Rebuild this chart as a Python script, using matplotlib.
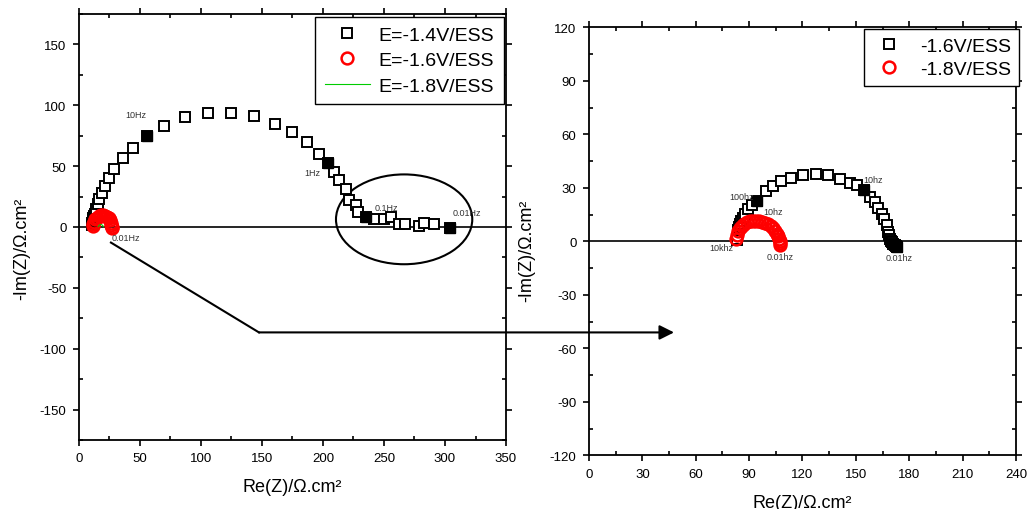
import numpy as np
import matplotlib
matplotlib.use('Agg')
import matplotlib.pyplot as plt
from matplotlib.patches import Ellipse, ConnectionPatch

plt.rcParams['font.family'] = ['Liberation Sans', 'DejaVu Sans']
plt.rcParams['axes.unicode_minus'] = False

# --- left panel: Nyquist at three potentials
x14 = [10.5, 10.8, 11.2, 11.5, 11.8, 12.2, 12.8, 13.9, 15.3, 16.7, 18.6, 21.0, 24.6, 28.9,
       35.8, 44.5, 56.0, 70.0, 86.9, 105.5, 124.3, 143.4, 161.0, 175.0, 186.6, 196.4, 204.4,
       209.3, 213.1, 218.6, 221.3, 226.8, 229.0, 235.2, 242.0, 250.2, 255.5, 262.3, 267.2,
       278.7, 282.8, 291.3, 304.0]
y14 = [1.5, 3.0, 4.5, 6.0, 7.5, 9.0, 11.0, 14.5, 18.9, 22.7, 28.2, 33.6, 39.9, 47.5,
       56.3, 65.3, 74.6, 83.0, 90.0, 93.8, 93.8, 91.3, 85.0, 78.4, 70.2, 60.1, 52.5,
       44.8, 38.5, 30.9, 22.1, 18.0, 12.6, 8.5, 6.6, 6.6, 8.0, 2.2, 2.2,
       0.8, 3.0, 2.2, -0.5]
x14_marked = [56.0, 204.4, 235.2, 304.0]
y14_marked = [74.6, 52.5, 8.5, -0.5]

x16 = [11.5, 11.8, 12.5, 13.5, 14.8, 16.3, 18.0, 19.8, 21.5, 23.0, 24.3, 25.3, 26.0, 26.5, 26.8, 27.0]
y16 = [0.5, 2.5, 4.5, 6.3, 7.8, 8.9, 9.5, 9.6, 9.2, 8.3, 7.0, 5.4, 3.6, 1.8, 0.0, -1.0]

x18 = [15.8, 16.5, 17.6, 18.8, 19.7, 20.0]
y18 = [0.3, 1.4, 2.0, 1.8, 1.0, 0.2]

left_freqs = [('10Hz', 47, 92.4), ('1Hz', 191.5, 44.8), ('0.1Hz', 251.6, 16),
              ('0.01Hz', 317.8, 11.8), ('0.01Hz', 38.3, -8.4)]

# --- right panel: zoom on -1.6 and -1.8 V
xr16 = [83.0, 83.3, 83.6, 84.2, 84.9, 85.6, 86.4, 87.7, 89.5, 91.5, 94.3, 99.3, 103.6, 107.8,
        113.4, 120.1, 127.6, 134.5, 141.1, 146.7, 150.5, 154.8, 158.0, 160.8, 162.6, 164.5,
        165.8, 167.3, 168.2, 168.8, 169.2, 169.8, 170.4, 171.1, 171.8, 172.4, 173.0]
yr16 = [0.5, 1.5, 6.2, 8.0, 9.9, 11.5, 13.1, 15.5, 17.9, 20.2, 22.6, 28.4, 31.0, 33.6,
        35.7, 37.0, 37.5, 37.0, 35.1, 32.9, 31.4, 28.6, 24.9, 22.0, 18.7, 15.5,
        12.7, 9.0, 5.3, 3.5, 1.5, 0.3, -0.5, -1.3, -2.0, -2.6, -3.1]
xr16_marked = [94.3, 154.8, 171.1, 173.0]
yr16_marked = [22.6, 28.6, -1.3, -3.1]

xr18 = [82.5, 83.0, 83.8, 84.8, 86.0, 87.3, 88.8, 90.4, 92.1, 93.9, 95.7, 97.5, 99.2, 100.8,
        102.3, 103.6, 104.7, 105.6, 106.3, 106.8, 107.1, 107.3, 107.4]
yr18 = [1.5, 3.6, 5.5, 7.2, 8.6, 9.8, 10.6, 11.2, 11.5, 11.6, 11.5, 11.1, 10.5, 9.6,
        8.5, 7.2, 5.8, 4.3, 2.8, 1.3, 0.0, -1.2, -2.2]

right_freqs = [('100hz', 85.8, 25.2), ('10hz', 103.3, 16.5), ('10khz', 74.6, -3.7),
               ('0.01hz', 107.4, -8.4), ('0.01hz', 174.4, -9.3), ('10hz', 159.8, 34.7)]

fig = plt.figure(figsize=(10.27, 5.10), dpi=100)
ax1 = fig.add_axes([0.0769, 0.1353, 0.4158, 0.8353])
ax2 = fig.add_axes([0.5735, 0.1053, 0.4158, 0.8392])

sq = dict(marker='s', ms=7.5, mfc='white', mec='black', mew=1.4, ls='none')
ci = dict(marker='o', ms=8.5, mfc='none', mec='red', mew=1.8, ls='none')


def style_axes(ax, xmaj, xmin, ymaj, ymin):
    ax.set_xticks(xmaj)
    ax.set_xticks(xmin, minor=True)
    ax.set_yticks(ymaj)
    ax.set_yticks(ymin, minor=True)
    ax.tick_params(which='major', direction='out', length=4, width=1.2, labelsize=9.5, pad=5)
    ax.tick_params(which='minor', direction='in', length=3, width=1.2)
    ax.tick_params(which='both', top=True, right=True)
    for s in ax.spines.values():
        s.set_linewidth(1.3)
    ax.axhline(0, color='black', lw=1.2, zorder=1)


# left panel
ax1.plot(x14, y14, label='E=-1.4V/ESS', **sq)
ax1.plot(x14_marked, y14_marked, marker='s', ms=7.5, color='black', ls='none')
ax1.plot(x16, y16, label='E=-1.6V/ESS', **ci)
ax1.plot(x18, y18, color='#00cc00', lw=0.8, label='E=-1.8V/ESS')
for txt, x, y in left_freqs:
    ax1.text(x, y, txt, fontsize=6.5, color='#333333', ha='center', va='center')
ax1.add_patch(Ellipse((266.5, 6.3), 111.7, 73.8, fill=False, lw=1.5, color='black'))
ax1.set_xlim(0, 350)
ax1.set_ylim(-175, 175)
style_axes(ax1, np.arange(0, 351, 50), np.arange(25, 350, 50),
           np.arange(-150, 151, 50), np.arange(-175, 176, 25))
ax1.set_xlabel('Re(Z)/Ω.cm²', fontsize=13)
ax1.set_ylabel('-Im(Z)/Ω.cm²', fontsize=13)
ax1.xaxis.set_label_coords(0.5, -0.09)
ax1.yaxis.set_label_coords(-0.115, 0.45)
leg1 = ax1.legend(loc='upper right', bbox_to_anchor=(0.995, 0.994), borderaxespad=0,
                  fontsize=14, frameon=True, fancybox=False, framealpha=1,
                  edgecolor='black', handlelength=2.3, handletextpad=0.45,
                  labelspacing=0.4, borderpad=0.5)
leg1.get_frame().set_linewidth(1.0)

# right panel
ax2.plot(xr16, yr16, label='-1.6V/ESS', **sq)
ax2.plot(xr16_marked, yr16_marked, marker='s', ms=7.5, color='black', ls='none')
ax2.plot(xr18, yr18, label='-1.8V/ESS', **ci)
for txt, x, y in right_freqs:
    ax2.text(x, y, txt, fontsize=6.5, color='#333333', ha='center', va='center')
ax2.set_xlim(0, 240)
ax2.set_ylim(-120, 120)
style_axes(ax2, np.arange(0, 241, 30), np.arange(15, 240, 30),
           np.arange(-120, 121, 30), np.arange(-105, 120, 30))
ax2.set_xlabel('Re(Z)/Ω.cm²', fontsize=13)
ax2.set_ylabel('-Im(Z)/Ω.cm²', fontsize=13)
ax2.xaxis.set_label_coords(0.5, -0.09)
ax2.yaxis.set_label_coords(-0.125, 0.48)
leg2 = ax2.legend(loc='upper right', bbox_to_anchor=(1.007, 0.995), borderaxespad=0,
                  fontsize=14, frameon=True, fancybox=False, framealpha=1,
                  edgecolor='black', handlelength=1.8, handletextpad=0.7,
                  labelspacing=0.3, borderpad=0.4)
leg2.get_frame().set_linewidth(1.0)

# arrow from the left plot towards the zoomed panel
ax1.plot([26.2, 147.5], [-12.8, -86.6], color='black', lw=1.5, clip_on=False)
con = ConnectionPatch(xyA=(147.5, -86.6), coordsA=ax1.transData,
                      xyB=(47.8, -51.1), coordsB=ax2.transData,
                      arrowstyle='-|>', mutation_scale=22, lw=1.5, color='black')
fig.add_artist(con)

fig.savefig('out.png', dpi=100)
